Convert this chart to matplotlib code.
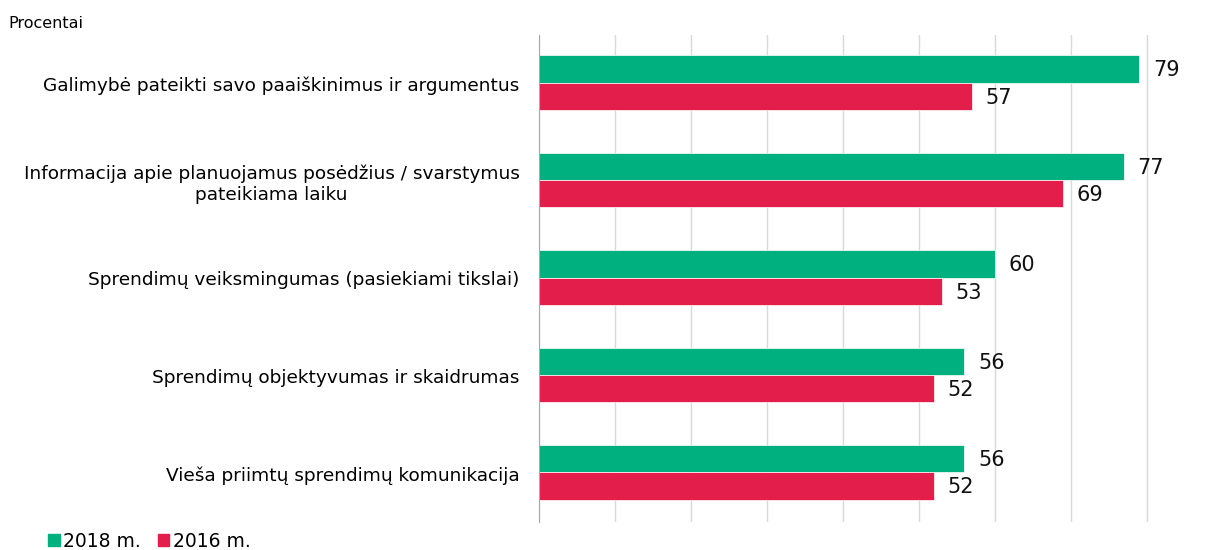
import matplotlib.pyplot as plt
import matplotlib.patches as patches
import numpy as np

# Data
categories = [
    "Galimybė pateikti savo paaiškinimus ir argumentus",
    "Informacija apie planuojamus posėdžius / svarstymus\npateikiama laiku",
    "Sprendimų veiksmingumas (pasiekiami tikslai)",
    "Sprendimų objektyvumas ir skaidrumas",
    "Vieša priimtų sprendimų komunikacija",
]
values_2018 = [79, 77, 60, 56, 56]
values_2016 = [57, 69, 53, 52, 52]
series_names = ["2018 m.", "2016 m."]

GREEN = "#00B07F"
RED = "#E31E4A"


def main():
    plt.rcParams['font.family'] = ['DejaVu Sans']
    fig = plt.figure(figsize=(12.11, 5.5), dpi=100)
    ax = fig.add_axes([0.4451, 0.0509, 0.5456, 0.8855])

    y = np.arange(len(categories))
    h = 0.28
    bars_a = ax.barh(y - h / 2 - 0.01, values_2018, height=h, color=GREEN,
                     edgecolor="white", linewidth=0.5, zorder=3)
    bars_b = ax.barh(y + h / 2 - 0.01, values_2016, height=h, color=RED,
                     edgecolor="white", linewidth=0.5, zorder=3)

    for bars in (bars_a, bars_b):
        for b in bars:
            ax.annotate(f"{b.get_width():.0f}",
                        xy=(b.get_width(), b.get_y() + b.get_height() / 2),
                        xytext=(10, -1), textcoords="offset points",
                        ha="left", va="center", fontsize=15, color="#111111")

    ax.set_xlim(0, 87)
    ax.set_ylim(len(categories) - 0.5, -0.5)
    ax.set_xticks(np.arange(0, 90, 10))
    ax.tick_params(axis="x", length=0, labelbottom=False)
    ax.grid(axis="x", color="#D9D9D9", linewidth=1, zorder=0)
    ax.set_yticks(y)
    ax.set_yticklabels(categories, fontsize=13.3, multialignment="center")
    ax.tick_params(axis="y", length=0, pad=14)
    for s in ("top", "right", "bottom"):
        ax.spines[s].set_visible(False)
    ax.spines["left"].set_color("#AAAAAA")
    ax.spines["left"].set_zorder(4)

    fig.text(0.007, 0.957, "Procentai", fontsize=11.5, va="center", ha="left")

    handles = [patches.Patch(color=GREEN, label=series_names[0]),
               patches.Patch(color=RED, label=series_names[1])]
    fig.legend(handles=handles, loc="lower left", bbox_to_anchor=(0.026, -0.032),
               ncol=2, frameon=False, fontsize=13.5, handlelength=0.6,
               handleheight=0.6, handletextpad=0.2, columnspacing=0.9)

    fig.savefig("out.png", dpi=100)
    plt.close()


if __name__ == "__main__":
    main()
